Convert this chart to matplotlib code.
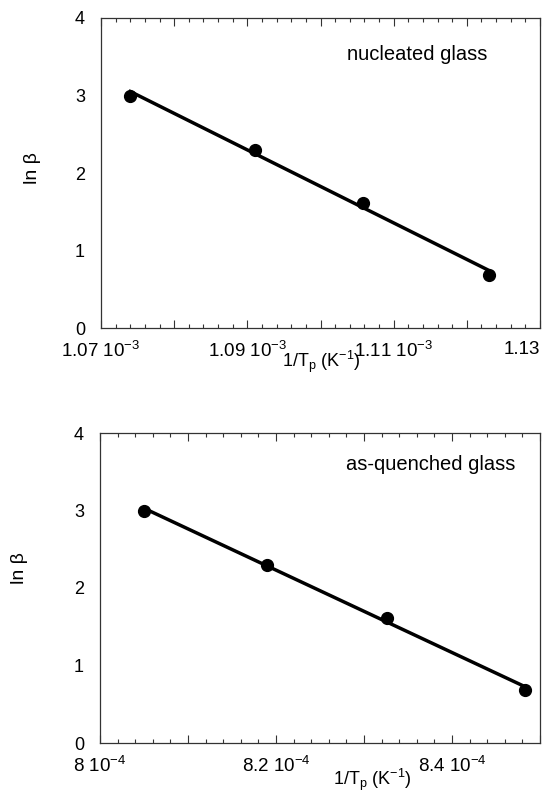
import numpy as np
import matplotlib
matplotlib.use("Agg")
import matplotlib.pyplot as plt
from matplotlib.ticker import FixedLocator, MultipleLocator

plt.rcParams['font.family'] = ['Liberation Sans', 'DejaVu Sans']
plt.rcParams['mathtext.fontset'] = 'custom'
plt.rcParams['mathtext.rm'] = 'Liberation Sans'
plt.rcParams['mathtext.it'] = 'Liberation Sans:italic'
plt.rcParams['mathtext.default'] = 'regular'

# ---- data ----
x_nuc = [1.0740e-3, 1.0910e-3, 1.1058e-3, 1.1230e-3]
y_nuc = [3.00, 2.30, 1.61, 0.69]
x_aq = [8.050e-4, 8.190e-4, 8.326e-4, 8.483e-4]
y_aq = [3.00, 2.30, 1.61, 0.69]

xt_nuc = [1.07e-3, 1.08e-3, 1.09e-3, 1.10e-3, 1.11e-3, 1.12e-3, 1.13e-3]
xtl_nuc = ['1.07 10$^{-3}$', '', '1.09 10$^{-3}$', '', '1.11 10$^{-3}$', '', '1.13']
xt_aq = [8.0e-4, 8.1e-4, 8.2e-4, 8.3e-4, 8.4e-4, 8.5e-4]
xtl_aq = ['8 10$^{-4}$', '', '8.2 10$^{-4}$', '', '8.4 10$^{-4}$', '']
yt = [0, 1, 2, 3, 4]
ytl = ['0', '1', '2', '3', '4']

W, H = 544, 794
fig = plt.figure(figsize=(W / 100, H / 100), dpi=100)

def px_axes(l, r, t, b):
    return fig.add_axes([l / W, 1 - b / H, (r - l) / W, (b - t) / H])

ax1 = px_axes(101, 540, 18, 328)
ax2 = px_axes(100, 540, 433, 743)

spine_col = '#333333'

def style(ax, xs, ys, xt, xtl, xlim, minor, label_text, tx, ty,
          xl_pos, yl_pos):
    fit = np.polyfit(xs, ys, 1)
    xf = np.array([xs[0], xs[-1]])
    ax.plot(xf, np.polyval(fit, xf), color='black', lw=2.5, zorder=2)
    ax.plot(xs, ys, 'o', color='black', ms=8.5, zorder=3)
    ax.set_xlim(*xlim)
    ax.set_ylim(0, 4)
    ax.xaxis.set_major_locator(FixedLocator(xt))
    ax.set_xticklabels(xtl)
    ax.xaxis.set_minor_locator(MultipleLocator(minor))
    ax.yaxis.set_major_locator(FixedLocator(yt))
    ax.set_yticklabels(ytl)
    ax.tick_params(axis='x', which='major', direction='in', top=True,
                   length=6, width=0.8, color=spine_col, labelsize=13.5, pad=9)
    ax.tick_params(axis='x', which='minor', direction='in', top=True,
                   length=3, width=0.8, color=spine_col)
    ax.tick_params(axis='y', which='major', direction='in', right=True,
                   length=0, labelsize=13, pad=11.5)
    for s in ax.spines.values():
        s.set_color(spine_col)
        s.set_linewidth(0.9)
    ax.set_xlabel('1/T$_{p}$ (K$^{-1}$)', fontsize=13, va='baseline')
    ax.xaxis.set_label_coords(*xl_pos)
    ax.set_ylabel('ln β', fontsize=14, va='center')
    ax.yaxis.set_label_coords(*yl_pos)
    ax.text(tx, ty, label_text, transform=ax.transAxes, ha='right',
            va='baseline', fontsize=14.5)

style(ax1, x_nuc, y_nuc, xt_nuc, xtl_nuc, (1.07e-3, 1.13e-3), 0.002e-3,
      'nucleated glass', 0.879, 0.865, (0.503, -0.126), (-0.155, 0.516))
style(ax2, x_aq, y_aq, xt_aq, xtl_aq, (8.0e-4, 8.5e-4), 0.02e-4,
      'as-quenched glass', 0.943, 0.881, (0.618, -0.135), (-0.184, 0.565))

ax1.get_xticklabels()[-1].set_horizontalalignment('right')

fig.savefig('out.png', dpi=100, facecolor='white')
